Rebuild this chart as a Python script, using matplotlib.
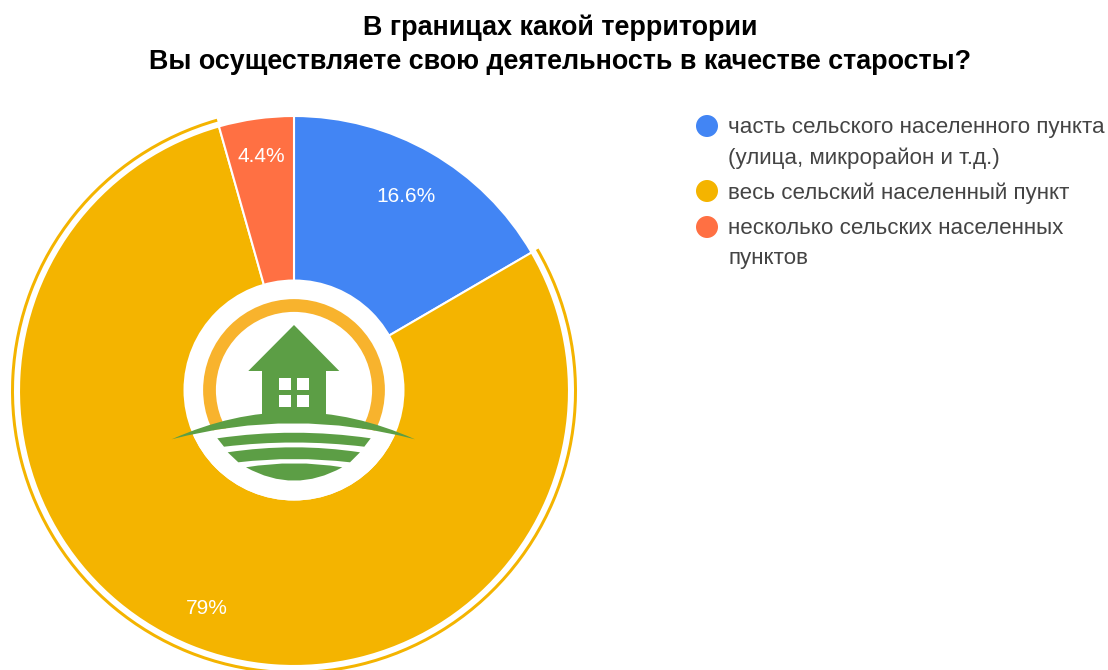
import matplotlib
matplotlib.use("Agg")
import matplotlib.pyplot as plt
from matplotlib.patches import Circle, PathPatch, Polygon, Rectangle
from matplotlib.path import Path

plt.rcParams['font.family'] = ['Liberation Sans', 'DejaVu Sans']

# Data
title = "В границах какой территории\nВы осуществляете свою деятельность в качестве старосты?"
categories = ["часть сельского населенного пункта\n(улица, микрорайон и т.д.)",
              "весь сельский населенный пункт",
              "несколько сельских населенных\nпунктов"]
values = [16.6, 79, 4.4]
colors = ["#4285F4", "#F4B400", "#FF7043"]
ring_colors = ["none", "#F4B400", "none"]

W, H = 1108, 670
CX, CY, R = 294, 391, 275
GREEN = "#5C9E45"

fig = plt.figure(figsize=(W / 100, H / 100), dpi=100)

# Pie axes, 300 px either side of the centre
ax = fig.add_axes([(CX - 300) / W, 1 - (CY + 300) / H, 600 / W, 600 / H])
wedges, texts, pcts = ax.pie(values, colors=colors, startangle=90, counterclock=False, radius=R / 300,
                             wedgeprops=dict(edgecolor="white", linewidth=1.5),
                             autopct=lambda p: f"{p:.3g}%", pctdistance=0.84,
                             textprops=dict(color="white", fontsize=15))
# labels do not sit at quite the same radius in each slice
for t, k in zip(pcts, [0.97, 1.015, 1.025]):
    px, py = t.get_position()
    t.set_position((px * k, py * k))
# Thin outline around the largest slice
ax.pie(values, colors=ring_colors, startangle=90, counterclock=False, radius=283 / 300,
       wedgeprops=dict(width=3 / 300, linewidth=0))
ax.set_xlim(-1, 1)
ax.set_ylim(-1, 1)
ax.patch.set_alpha(0)

# Overlay in pixel coordinates for logo, title and legend
ov = fig.add_axes([0, 0, 1, 1])
ov.set_xlim(0, W)
ov.set_ylim(H, 0)
ov.axis("off")
ov.patch.set_alpha(0)


def curved(x0, x1, y_top, c_top, x2, x3, y_bot, c_bot):
    verts = [(x0, y_top), ((x0 + x1) / 2, c_top), (x1, y_top),
             (x2, y_bot), ((x2 + x3) / 2, c_bot), (x3, y_bot), (x0, y_top)]
    codes = [Path.MOVETO, Path.CURVE3, Path.CURVE3,
             Path.LINETO, Path.CURVE3, Path.CURVE3, Path.CLOSEPOLY]
    return Path(verts, codes)


# Logo
disc = Circle((294, 390), 110.5, fc="white", ec="none")
ov.add_patch(disc)
ov.add_patch(Circle((294, 390), 84.5, fc="none", ec="#F8B32D", lw=9.2))
# white area under the hill hides the bottom of the ring
under = PathPatch(curved(171.7, 415, 439.3, 407.3, 415, 171.7, 520, 520), fc="white", ec="none")
ov.add_patch(under)
under.set_clip_path(disc)
# house
ov.add_patch(Polygon([(294, 325), (339.3, 371), (326, 371), (326, 418), (262, 418), (262, 371), (248.3, 371)],
                     fc=GREEN, ec="none"))
for wx in (279, 296.7):
    for wy in (377.7, 395):
        ov.add_patch(Rectangle((wx, wy), 12, 12, fc="white", ec="none"))
# hill and field stripes
ov.add_patch(PathPatch(curved(171.7, 415, 439.3, 384.7, 415, 171.7, 439.3, 407.3), fc=GREEN, ec="none"))
ov.add_patch(PathPatch(curved(217.3, 370.7, 438.3, 427.1, 364.3, 224, 446.7, 438.3), fc=GREEN, ec="none"))
ov.add_patch(PathPatch(curved(227.7, 360, 452.3, 442.3, 350, 238.3, 462.3, 455.7), fc=GREEN, ec="none"))
ov.add_patch(PathPatch(curved(246, 342.3, 467.3, 459.3, 342.3, 246, 467.3, 494), fc=GREEN, ec="none"))

# Title
ov.text(560, 45, title, ha="center", va="center", fontsize=19.4, fontweight="bold",
        color="black", linespacing=1.38)

# Legend
legend_y = [126, 191, 227]
for cat, col, y in zip(categories, colors, legend_y):
    ov.add_patch(Circle((707, y), 11, fc=col, ec="none"))
    ov.text(728, y - 9, cat, ha="left", va="top", fontsize=16.1, color="#444444", linespacing=1.58)

fig.savefig("out.png", dpi=100)
